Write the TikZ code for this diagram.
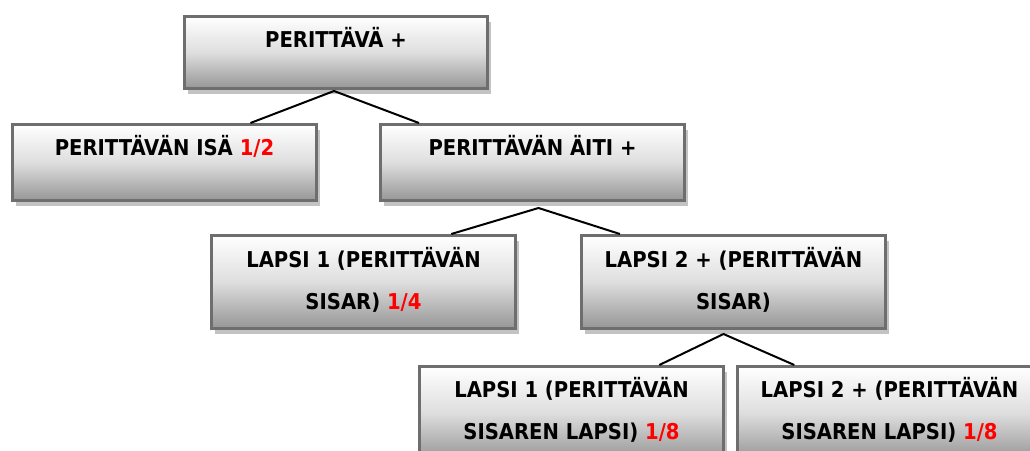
\documentclass[tikz,border=0pt]{standalone}
\usepackage{fontspec}
\setmainfont{DejaVu Sans Condensed}[BoldFont={DejaVu Sans Condensed Bold}]
\usetikzlibrary{calc,shadows}
\definecolor{boxtop}{RGB}{255,255,255}
\definecolor{boxmid}{RGB}{222,222,222}
\definecolor{boxbot}{RGB}{150,150,150}
\definecolor{boxline}{RGB}{110,110,110}
\definecolor{shadowgray}{RGB}{195,195,195}
\definecolor{frac}{RGB}{255,0,0}
\tikzset{
  box/.style={rectangle, draw=boxline, line width=3pt, top color=boxtop, bottom color=boxbot, middle color=boxmid,
    minimum width=304pt, minimum height=#1, anchor=north west, inner sep=0pt,
    drop shadow={shadow xshift=3.5pt, shadow yshift=-5pt, fill=shadowgray, opacity=1}},
  lbl/.style={anchor=base, font=\bfseries\fontsize{21.8}{24}\selectfont, inner sep=0pt},
  link/.style={line width=2pt, black},
}
\newcommand{\fr}[1]{\textcolor{frac}{#1}}
\begin{document}
\begin{tikzpicture}[x=1pt,y=-1pt]
\useasboundingbox (0,0) rectangle (1030,450);
\clip (0,0) rectangle (1030,450);
% boxes
\node[box=72pt, minimum width=303pt] (b1) at (183,15) {};
\node[box=76pt] (b2) at (11,123) {};
\node[box=76pt] (b3) at (379,123) {};
\node[box=93pt] (b4) at (210,234) {};
\node[box=93pt] (b5) at (580,234) {};
\node[box=93pt] (b6) at (418,365) {};
\node[box=93pt] (b7) at (736,365) {};
% texts
\node[lbl] (t1) at ($(b1.north)+(0,32)$) {PERITTÄVÄ +};
\node[lbl] (t2) at ($(b2.north)+(0,32)$) {PERITTÄVÄN ISÄ \fr{1/2}};
\node[lbl] (t3) at ($(b3.north)+(0,32)$) {PERITTÄVÄN ÄITI +};
\node[lbl] (t4a) at ($(b4.north)+(0,33)$) {LAPSI 1 (PERITTÄVÄN};
\node[lbl] (t4b) at ($(b4.north)+(0,75)$) {SISAR) \fr{1/4}};
\node[lbl] (t5a) at ($(b5.north)+(0,33)$) {LAPSI 2 + (PERITTÄVÄN};
\node[lbl] (t5b) at ($(b5.north)+(0,75)$) {SISAR)};
\node[lbl] (t6a) at ($(b6.north)+(0,32)$) {LAPSI 1 (PERITTÄVÄN};
\node[lbl] (t6b) at ($(b6.north)+(0,74)$) {SISAREN LAPSI) \fr{1/8}};
\node[lbl] (t7a) at ($(b7.north)+(0,32)$) {LAPSI 2 + (PERITTÄVÄN};
\node[lbl] (t7b) at ($(b7.north)+(0,74)$) {SISAREN LAPSI) \fr{1/8}};
% connectors
\coordinate (j1) at ($(b1.south)+(-2,1)$);
\coordinate (j3) at ($(b3.south)+(6,6)$);
\coordinate (j5) at ($(b5.south)+(-10,4)$);
\draw[link] ($(b2.north west)!0.78!(b2.north east)$) -- (j1) -- ($(b3.north west)!0.13!(b3.north east)$);
\draw[link] ($(b4.north west)!0.786!(b4.north east)$) -- (j3) -- ($(b5.north west)!0.13!(b5.north east)$);
\draw[link] ($(b6.north west)!0.786!(b6.north east)$) -- (j5) -- ($(b7.north west)!0.19!(b7.north east)$);
\end{tikzpicture}
\end{document}
